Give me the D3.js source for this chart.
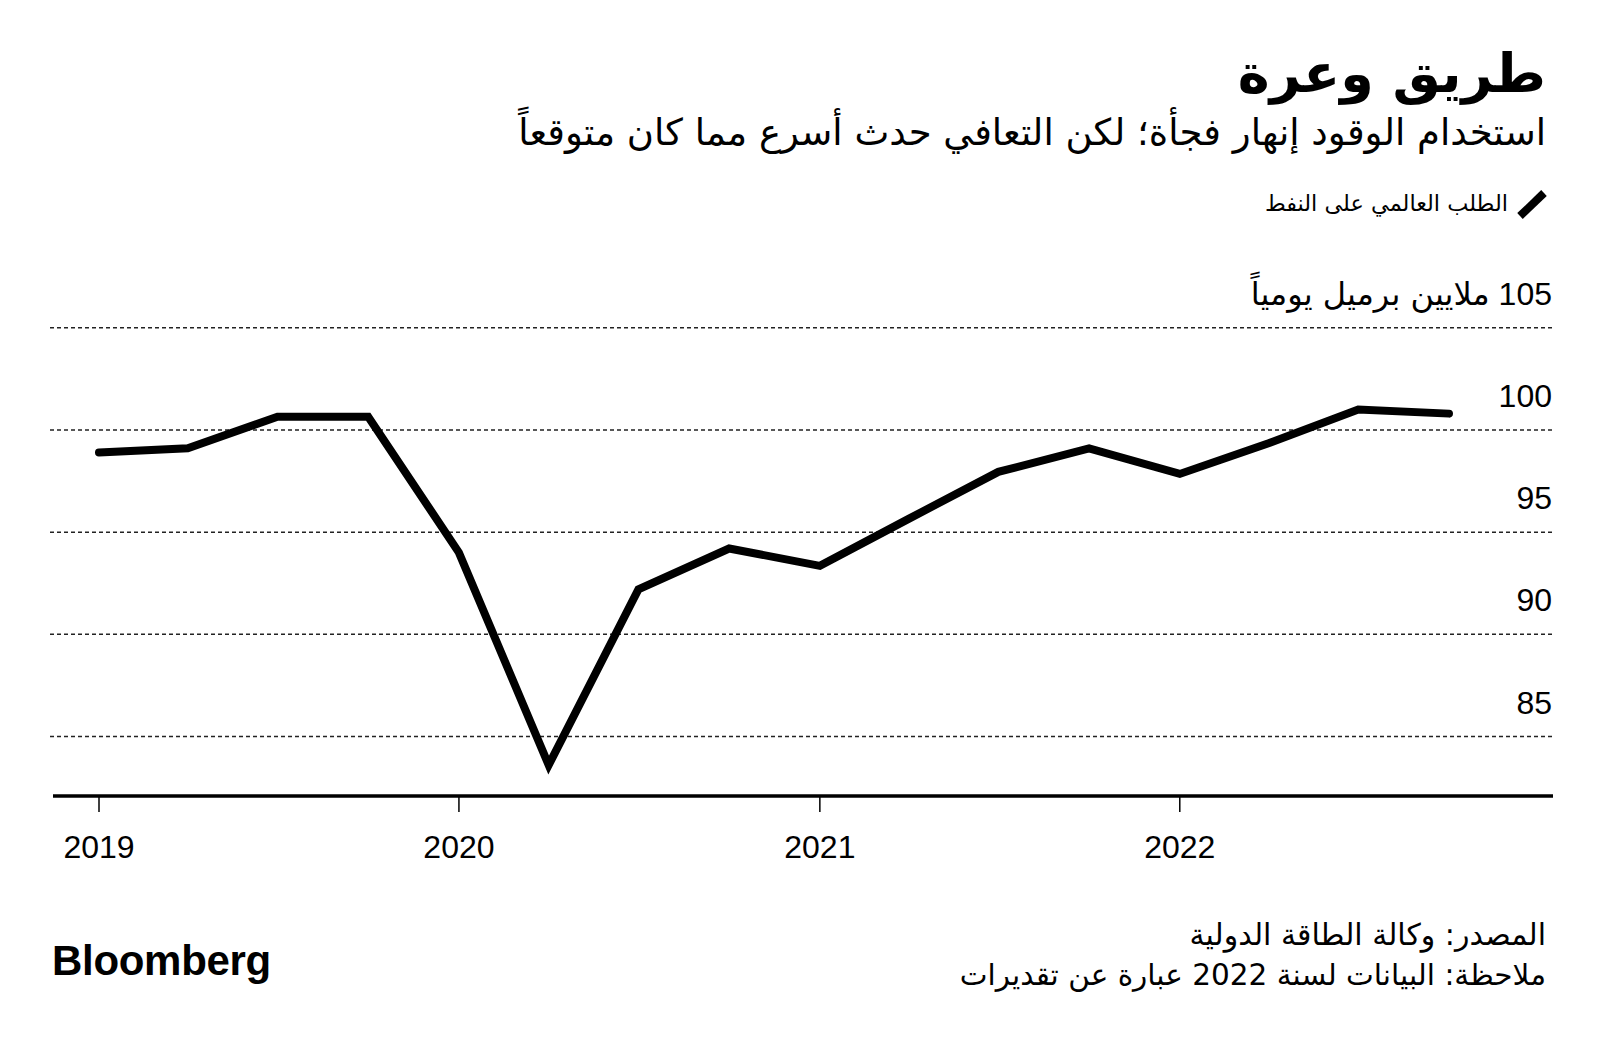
<!DOCTYPE html>
<html>
<head>
<meta charset="utf-8">
<script src="https://cdn.jsdelivr.net/npm/d3@7"></script>
<style>
  body { margin: 0; background: #fff; }
  svg text { fill: #000; }
  .ar { font-family: "DejaVu Sans", sans-serif; direction: rtl; }
  .num { font-family: "Liberation Sans", Arial, sans-serif; }
</style>
</head>
<body>
<svg id="chart" width="1600" height="1041"></svg>
<script>
// quarterly world oil demand, million barrels per day
var quarters = ["2019-01-01", "2019-04-01", "2019-07-01", "2019-10-01",
                "2020-01-01", "2020-04-01", "2020-07-01", "2020-10-01",
                "2021-01-01", "2021-04-01", "2021-07-01", "2021-10-01",
                "2022-01-01", "2022-04-01", "2022-07-01", "2022-10-01"];
var demand = [98.9, 99.1, 100.65, 100.65,
              94.0, 83.6, 92.2, 94.2,
              93.35, 95.65, 97.95, 99.1,
              97.85, 99.35, 101.0, 100.8];
var yTicks = [85, 90, 95, 100, 105];
var yearTicks = ["2019-01-01", "2020-01-01", "2021-01-01", "2022-01-01"];

var title = "طريق وعرة";
var subtitle = "استخدام الوقود إنهار فجأة؛ لكن التعافي حدث أسرع مما كان متوقعاً";
var legendLabel = "الطلب العالمي على النفط";
var unitLabel = "ملايين برميل يومياً";
var source = "المصدر: وكالة الطاقة الدولية";
var note = "ملاحظة: البيانات لسنة 2022 عبارة عن تقديرات";

var parse = d3.timeParse("%Y-%m-%d");
var data = quarters.map(function(q, i) { return {date: parse(q), value: demand[i]}; });

var svg = d3.select("#chart");
var left = 50, right = 1553, axisY = 796;

var x = d3.scaleTime()
    .domain([parse("2019-01-01"), parse("2022-10-01")])
    .range([99, 1449]);

var y = d3.scaleLinear()
    .domain([85, 105])
    .range([736.5, 327.8]);

/********** Header **********/
svg.append("text")
    .attr("class", "ar")
    .attr("x", 1546).attr("y", 92)
    .attr("text-anchor", "start")
    .style("font-size", "54px").style("font-weight", "bold")
    .text(title);

svg.append("text")
    .attr("class", "ar")
    .attr("x", 1546).attr("y", 145)
    .attr("text-anchor", "start")
    .style("font-size", "37px")
    .text(subtitle);

// legend
svg.append("line")
    .attr("x1", 1520).attr("y1", 216)
    .attr("x2", 1544).attr("y2", 193)
    .attr("stroke", "#000").attr("stroke-width", 8);

svg.append("text")
    .attr("class", "ar")
    .attr("x", 1508).attr("y", 211)
    .attr("text-anchor", "start")
    .style("font-size", "22.4px")
    .text(legendLabel);

/********** Grid + y labels **********/
svg.append("g")
    .selectAll("line")
    .data(yTicks)
    .enter().append("line")
    .attr("x1", left).attr("x2", right)
    .attr("y1", function(d) { return y(d); })
    .attr("y2", function(d) { return y(d); })
    .attr("stroke", "#222")
    .attr("stroke-width", 1.5)
    .attr("stroke-dasharray", "4,3");

svg.append("g")
    .selectAll("text")
    .data(yTicks.filter(function(d) { return d != 105; }))
    .enter().append("text")
    .attr("class", "num")
    .attr("x", right - 1)
    .attr("y", function(d) { return y(d) - 23; })
    .attr("text-anchor", "end")
    .style("font-size", "32px")
    .text(function(d) { return d; });

// top label: "105 ملايين برميل يومياً" with the number on the right
var unitText = svg.append("text")
    .attr("class", "ar")
    .attr("x", right - 1)
    .attr("y", y(105) - 23)
    .attr("text-anchor", "start")
    .style("font-size", "32px");
unitText.append("tspan").style("font-family", "Liberation Sans, Arial, sans-serif").text("105 ");
unitText.append("tspan").text(unitLabel);

/********** X axis **********/
svg.append("line")
    .attr("x1", 53).attr("x2", right)
    .attr("y1", axisY).attr("y2", axisY)
    .attr("stroke", "#000").attr("stroke-width", 3.5);

var xt = svg.append("g")
    .selectAll("g")
    .data(yearTicks.map(parse))
    .enter().append("g")
    .attr("transform", function(d) { return "translate(" + x(d) + "," + axisY + ")"; });

xt.append("line")
    .attr("y1", 0).attr("y2", 16)
    .attr("stroke", "#000").attr("stroke-width", 1.5);

xt.append("text")
    .attr("class", "num")
    .attr("y", 62)
    .attr("text-anchor", "middle")
    .style("font-size", "32px")
    .text(function(d) { return d3.timeFormat("%Y")(d); });

/********** Line **********/
var line = d3.line()
    .x(function(d) { return x(d.date); })
    .y(function(d) { return y(d.value); });

svg.append("path")
    .datum(data)
    .attr("d", line)
    .attr("fill", "none")
    .attr("stroke", "#000")
    .attr("stroke-width", 8)
    .attr("stroke-linejoin", "miter")
    .attr("stroke-linecap", "round");

/********** Footer **********/
svg.append("text")
    .attr("class", "ar")
    .attr("x", 1546).attr("y", 945)
    .attr("text-anchor", "start")
    .style("font-size", "30px")
    .text(source);

svg.append("text")
    .attr("class", "ar")
    .attr("x", 1546).attr("y", 985)
    .attr("text-anchor", "start")
    .style("font-size", "29.5px")
    .text(note);

svg.append("text")
    .attr("x", 52).attr("y", 975)
    .style("font-family", "Liberation Sans, Arial, sans-serif")
    .style("font-weight", "bold")
    .style("font-size", "42px")
    .style("letter-spacing", "-0.3px")
    .text("Bloomberg");
</script>
</body>
</html>
